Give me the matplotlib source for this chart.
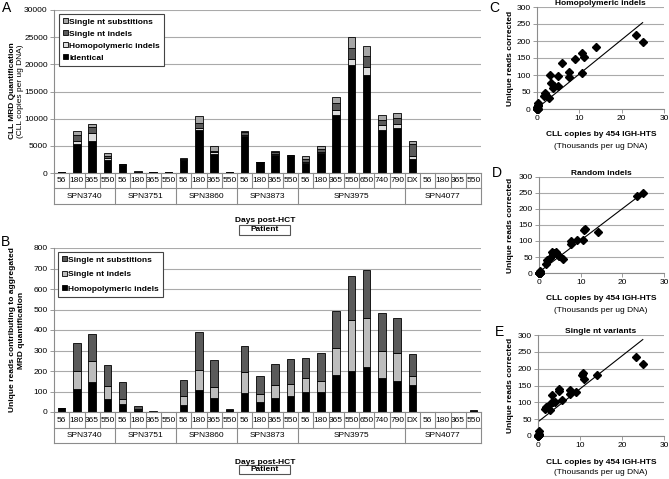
import numpy as np
import matplotlib
matplotlib.use("Agg")
import matplotlib.pyplot as plt
from matplotlib.patches import Rectangle

plt.rcParams['font.family'] = ['Liberation Sans', 'DejaVu Sans']
plt.rcParams['font.size'] = 6

# ---- data ----
days = ["56", "180", "365", "550", "56", "180", "365", "550",
        "56", "180", "365", "550", "56", "180", "365", "550",
        "56", "180", "365", "550", "650", "740", "790",
        "DX", "56", "180", "365", "550"]
patients = ["SPN3740", "SPN3751", "SPN3860", "SPN3873", "SPN3975", "SPN4077"]
group_sizes = [4, 4, 4, 4, 7, 5]

# panel A: CLL copies per ug DNA
a_identical = [150, 5400, 5800, 2450, 1550, 200, 100, 100,
               2330, 7830, 3550, 100, 6730, 1960, 3400, 3050,
               1850, 3650, 10700, 19900, 18050, 7950, 8250,
               2550, 50, 50, 50, 60]
a_homopoly = [0, 550, 1500, 300, 0, 0, 0, 0,
              0, 430, 300, 0, 300, 0, 100, 50,
              150, 300, 900, 1050, 1550, 800, 800,
              500, 0, 0, 0, 0]
a_snt_indel = [20, 1100, 1100, 430, 50, 60, 10, 10,
               300, 920, 200, 20, 430, 0, 300, 150,
               600, 450, 1200, 2000, 1850, 950, 1000,
               2300, 10, 10, 10, 20]
a_snt_subst = [10, 600, 600, 490, 50, 40, 10, 10,
               120, 1350, 850, 0, 190, 0, 300, 120,
               450, 500, 1250, 2000, 1950, 1000, 950,
               450, 0, 0, 0, 0]

# panel B: unique reads contributing
b_homopoly = [18, 110, 148, 63, 38, 8, 1, 0,
              33, 105, 68, 12, 95, 47, 68, 77,
              100, 97, 181, 198, 218, 165, 153,
              134, 0, 0, 0, 5]
b_snt_indel = [0, 90, 102, 64, 27, 5, 0, 0,
               47, 102, 52, 0, 101, 42, 65, 60,
               65, 53, 129, 249, 242, 133, 137,
               43, 0, 0, 0, 0]
b_snt_subst = [2, 138, 130, 101, 80, 14, 5, 2,
               78, 181, 135, 3, 126, 86, 100, 121,
               98, 140, 182, 214, 234, 186, 170,
               108, 0, 0, 0, 3]

trend_C = (10.1, 2.0)
trend_D = (9.9, 3.0)
trend_E = (9.8, 42.0)

W, H = 669, 479
fig = plt.figure(figsize=(W / 100, H / 100), dpi=100)

def box(l, t, r, b):
    return [l / W, 1 - b / H, (r - l) / W, (b - t) / H]

def ftext(px, py, s, **kw):
    fig.text(px / W, 1 - py / H, s, ha=kw.pop('ha', 'center'), va=kw.pop('va', 'center'), **kw)

GRID = '#aaaaaa'
LINE = '#8c8c8c'

def style_axes(ax, ymax, ystep):
    ax.set_ylim(0, ymax)
    ax.set_yticks(np.arange(0, ymax + 1, ystep))
    ax.yaxis.grid(True, color=GRID, lw=0.8)
    ax.set_axisbelow(True)
    for s in ['top', 'right']:
        ax.spines[s].set_visible(False)
    for s in ['left', 'bottom']:
        ax.spines[s].set_color(LINE)
        ax.spines[s].set_linewidth(0.8)
    ax.tick_params(axis='both', length=3, width=0.6, color=LINE, pad=1.5, labelsize=6)

x = np.arange(len(days))

def draw_table(ax, row1_px, row2_px):
    axh = ax.get_position().height * H
    tr = ax.get_xaxis_transform()
    h1 = row1_px / axh
    h2 = (row1_px + row2_px) / axh
    kw = dict(transform=tr, clip_on=False, color=LINE, lw=0.8)
    ax.plot([-0.5, len(days) - 0.5], [-h1, -h1], **kw)
    ax.plot([-0.5, len(days) - 0.5], [-h2, -h2], **kw)
    bounds = np.cumsum([0] + group_sizes)
    for i in range(len(days) + 1):
        ybot = -h2 if i in bounds else -h1
        ax.plot([i - 0.5, i - 0.5], [0, ybot], **kw)
    for i, d in enumerate(days):
        ax.text(i, -h1 / 2, d, transform=tr, ha='center', va='center', fontsize=6)
    for k, p in enumerate(patients):
        c = (bounds[k] + bounds[k + 1] - 1) / 2
        ax.text(c, -(h1 + h2) / 2, p, transform=tr, ha='center', va='center', fontsize=6)
    ax.set_xlim(-0.5, len(days) - 0.5)
    ax.set_xticks([])

def draw_bars(ax, layers, colors, labels):
    bottom = np.zeros(len(days))
    handles = []
    for vals, c, lab in zip(layers, colors, labels):
        v = np.array(vals, dtype=float)
        h = ax.bar(x, v, 0.5, bottom=bottom, color=c, edgecolor='black', lw=0.6, label=lab)
        handles.append(h)
        bottom += v
    return handles

leg_kw = dict(loc='upper left', borderaxespad=0, fancybox=False, framealpha=1,
              edgecolor='#444444', handlelength=0.55, handleheight=0.55,
              handletextpad=0.15, borderpad=0.5, prop={'weight': 'bold', 'size': 6})

# ---- panel A ----
axA = fig.add_axes(box(54, 10, 481, 173))
style_axes(axA, 30000, 5000)
hA = draw_bars(axA, [a_identical, a_homopoly, a_snt_indel, a_snt_subst],
               ['#000000', '#dcdcdc', '#5a5a5a', '#a6a6a6'],
               ['Identical', 'Homopolymeric indels', 'Single nt indels', 'Single nt substitions'])
draw_table(axA, 15, 16)
legA = axA.legend(hA[::-1], [h.get_label() for h in hA[::-1]],
                  bbox_to_anchor=(5 / 427, 1 - 4 / 163), labelspacing=0.55, **leg_kw)
legA.get_frame().set_linewidth(0.8)

ftext(13, 91, 'CLL MRD Quantification', rotation=90, weight='bold')
ftext(21, 91, '(CLL copies per ug DNA)', rotation=90)
ftext(265, 221, 'Days post-HCT', weight='bold')
fig.add_artist(Rectangle((239 / W, 1 - 235 / H), 51 / W, 10 / H, transform=fig.transFigure,
                         fill=False, ec='#555555', lw=0.8))
ftext(264.5, 230, 'Patient', weight='bold')

# ---- panel B ----
axB = fig.add_axes(box(54, 248, 481, 412))
style_axes(axB, 800, 100)
hB = draw_bars(axB, [b_homopoly, b_snt_indel, b_snt_subst],
               ['#000000', '#bdbdbd', '#5a5a5a'],
               ['Homopolymeric indels', 'Single nt indels', 'Single nt substitions'])
draw_table(axB, 16, 15)
legB = axB.legend(hB[::-1], [h.get_label() for h in hB[::-1]],
                  bbox_to_anchor=(4 / 427, 1 - 4 / 164), labelspacing=0.85, **leg_kw)
legB.get_frame().set_linewidth(0.8)

ftext(13, 330, 'Unique reads contributing to aggregated', rotation=90, weight='bold')
ftext(22, 330, 'MRD quantification', rotation=90, weight='bold')
ftext(265, 462, 'Days post-HCT', weight='bold')
fig.add_artist(Rectangle((239 / W, 1 - 474 / H), 51 / W, 9 / H, transform=fig.transFigure,
                         fill=False, ec='#555555', lw=0.8))
ftext(264.5, 469.5, 'Patient', weight='bold')

# ---- scatter panels C, D, E ----
a_total = (np.array(a_identical) + np.array(a_homopoly) + np.array(a_snt_indel)
           + np.array(a_snt_subst)) / 1000.0

def scatter_panel(rect, ys, trend, title, xl_y):
    ax = fig.add_axes(box(*rect))
    style_axes(ax, 300, 50)
    ax.set_xlim(0, 30)
    ax.set_xticks([0, 10, 20, 30])
    ax.plot(a_total, ys, 'D', color='black', ms=4.2, clip_on=False, zorder=3)
    xs = np.array([a_total.min(), a_total.max()])
    ax.plot(xs, trend[0] * xs + trend[1], color='black', lw=0.8, zorder=2)
    ax.set_title(title, fontsize=6, weight='bold', pad=1)
    cy = (rect[1] + rect[3]) / 2
    ftext(510, cy, 'Unique reads corrected', rotation=90, weight='bold')
    ftext(601, xl_y, 'CLL copies by 454 IGH-HTS', weight='bold')
    ftext(601, xl_y + 11, '(Thousands per ug DNA)')
    return ax

scatter_panel((537, 7, 664, 109), b_homopoly, trend_C, 'Homopolymeric indels', 135)
scatter_panel((539, 177, 664, 273), b_snt_indel, trend_D, 'Random indels', 299)
scatter_panel((538, 335, 664, 436), b_snt_subst, trend_E, 'Single nt variants', 462)

# panel letters
for lab, px, py in [('A', 7, 8), ('B', 6, 242), ('C', 494, 8), ('D', 497, 173), ('E', 499, 332)]:
    ftext(px, py, lab, fontsize=10)

fig.savefig('out.png', dpi=100)
